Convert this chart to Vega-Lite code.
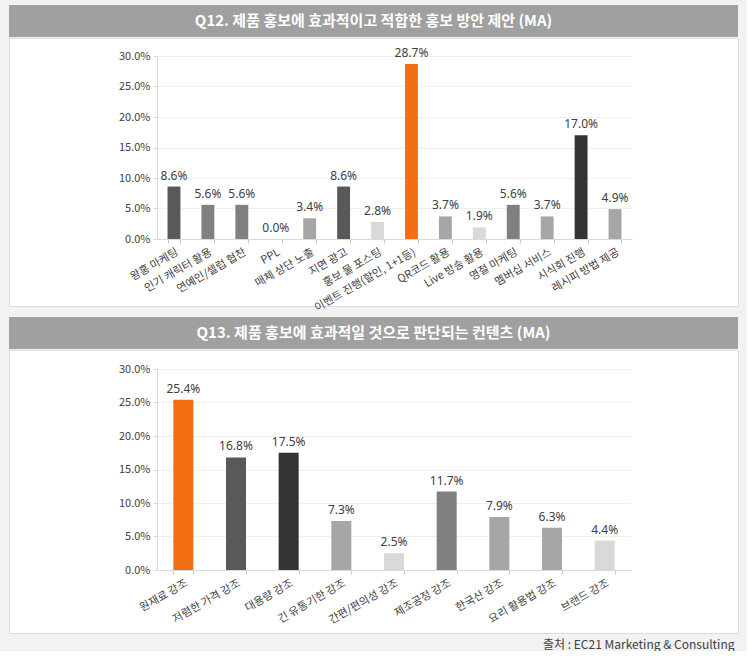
{
  "$schema": "https://vega.github.io/schema/vega-lite/v6.json",
  "background": "#f2f2f2",
  "padding": {"left": 8, "top": 5, "right": 8, "bottom": 0},
  "spacing": 3,
  "config": {
    "font": "Noto Sans CJK KR",
    "axis": {"labelFont": "Noto Sans CJK KR", "labelColor": "#404040", "title": null}
  },
  "title": {
    "text": "출처 : EC21 Marketing & Consulting",
    "orient": "bottom",
    "anchor": "end",
    "fontSize": 12,
    "fontWeight": "normal",
    "color": "#404040",
    "font": "Noto Sans CJK KR",
    "offset": 6,
    "dx": -4
  },
  "resolve": {"scale": {"x": "independent", "y": "independent", "color": "independent"}},
  "vconcat": [
    {
      "spacing": 0,
      "resolve": {"scale": {"x": "independent", "y": "independent", "color": "independent"}},
      "vconcat": [
        {
          "width": 729,
          "height": 32,
          "view": {"fill": "#a0a0a0", "stroke": null},
          "data": {"values": [{"t": "Q12. 제품 홍보에 효과적이고 적합한 홍보 방안 제안 (MA)"}]},
          "mark": {"type": "text", "color": "white", "fontWeight": "bold", "fontSize": 15, "font": "Noto Sans CJK KR"},
          "encoding": {"text": {"field": "t"}}
        },
        {
          "width": 729,
          "height": 268,
          "view": {"fill": "white", "stroke": "#dcdcdc"},
          "data": {
            "values": [
              {"item": "왕홍 마케팅", "value": 0.086},
              {"item": "인기 캐릭터 활용", "value": 0.056},
              {"item": "연예인/셀럽 협찬", "value": 0.056},
              {"item": "PPL", "value": 0.0},
              {"item": "매체 상단 노출", "value": 0.034},
              {"item": "지면 광고", "value": 0.086},
              {"item": "홍보 물 포스팅", "value": 0.028},
              {"item": "이벤트 진행(할인, 1+1등)", "value": 0.287},
              {"item": "QR코드 활용", "value": 0.037},
              {"item": "Live 방송 활용", "value": 0.019},
              {"item": "명절 마케팅", "value": 0.056},
              {"item": "멤버십 서비스", "value": 0.037},
              {"item": "시식회 진행", "value": 0.17},
              {"item": "레시피 방법 제공", "value": 0.049}
            ]
          },
          "encoding": {
            "x": {
              "field": "item", "type": "nominal", "sort": null,
              "scale": {"range": [148, 623], "paddingInner": 0.62, "paddingOuter": 0.31},
              "axis": {
                "labelAngle": -30, "labelAlign": "right", "labelBaseline": "top",
                "labelFontSize": 11, "labelPadding": 3, "labelLimit": 200,
                "tickBand": "extent", "tickColor": "#c8c8c8", "tickSize": 4,
                "domainColor": "#d9d9d9", "offset": -67
              }
            },
            "y": {
              "field": "value", "type": "quantitative",
              "scale": {"domain": [0, 0.3], "range": [201, 18], "nice": false},
              "axis": {
                "format": ".1%", "values": [0, 0.05, 0.1, 0.15, 0.2, 0.25, 0.3],
                "offset": -148, "labelFontSize": 11, "labelPadding": 3,
                "gridColor": "#efefef", "domainColor": "#d9d9d9", "tickColor": "#d9d9d9", "tickSize": 4
              }
            }
          },
          "layer": [
            {
              "mark": {"type": "bar"},
              "encoding": {
                "color": {
                  "field": "item", "type": "nominal", "legend": null,
                  "scale": {
                    "domain": ["왕홍 마케팅", "인기 캐릭터 활용", "연예인/셀럽 협찬", "PPL", "매체 상단 노출", "지면 광고", "홍보 물 포스팅", "이벤트 진행(할인, 1+1등)", "QR코드 활용", "Live 방송 활용", "명절 마케팅", "멤버십 서비스", "시식회 진행", "레시피 방법 제공"],
                    "range": ["#595959", "#808080", "#808080", "#808080", "#a6a6a6", "#595959", "#d9d9d9", "#f27013", "#a6a6a6", "#d9d9d9", "#808080", "#a6a6a6", "#333333", "#a6a6a6"]
                  }
                }
              }
            },
            {
              "mark": {"type": "text", "baseline": "bottom", "dy": -4, "fontSize": 12, "color": "#404040", "font": "Noto Sans"},
              "encoding": {"text": {"field": "value", "type": "quantitative", "format": ".1%"}}
            }
          ]
        }
      ]
    },
    {
      "spacing": 0,
      "resolve": {"scale": {"x": "independent", "y": "independent", "color": "independent"}},
      "vconcat": [
        {
          "width": 729,
          "height": 32,
          "view": {"fill": "#a0a0a0", "stroke": null},
          "data": {"values": [{"t": "Q13. 제품 홍보에 효과적일 것으로 판단되는 컨텐츠 (MA)"}]},
          "mark": {"type": "text", "color": "white", "fontWeight": "bold", "fontSize": 15, "font": "Noto Sans CJK KR"},
          "encoding": {"text": {"field": "t"}}
        },
        {
          "width": 729,
          "height": 283,
          "view": {"fill": "white", "stroke": "#dcdcdc"},
          "data": {
            "values": [
              {"item": "원재료 강조", "value": 0.254},
              {"item": "저렴한 가격 강조", "value": 0.168},
              {"item": "대용량 강조", "value": 0.175},
              {"item": "긴 유통기한 강조", "value": 0.073},
              {"item": "간편/편의성 강조", "value": 0.025},
              {"item": "제조공정 강조", "value": 0.117},
              {"item": "한국산 강조", "value": 0.079},
              {"item": "요리 활용법 강조", "value": 0.063},
              {"item": "브랜드 강조", "value": 0.044}
            ]
          },
          "encoding": {
            "x": {
              "field": "item", "type": "nominal", "sort": null,
              "scale": {"range": [148, 622], "paddingInner": 0.62, "paddingOuter": 0.31},
              "axis": {
                "labelAngle": -30, "labelAlign": "right", "labelBaseline": "top",
                "labelFontSize": 11, "labelPadding": 3, "labelLimit": 200,
                "tickBand": "extent", "tickColor": "#c8c8c8", "tickSize": 4,
                "domainColor": "#d9d9d9", "offset": -63
              }
            },
            "y": {
              "field": "value", "type": "quantitative",
              "scale": {"domain": [0, 0.3], "range": [220, 19], "nice": false},
              "axis": {
                "format": ".1%", "values": [0, 0.05, 0.1, 0.15, 0.2, 0.25, 0.3],
                "offset": -148, "labelFontSize": 11, "labelPadding": 3,
                "gridColor": "#efefef", "domainColor": "#d9d9d9", "tickColor": "#d9d9d9", "tickSize": 4
              }
            }
          },
          "layer": [
            {
              "mark": {"type": "bar"},
              "encoding": {
                "color": {
                  "field": "item", "type": "nominal", "legend": null,
                  "scale": {
                    "domain": ["원재료 강조", "저렴한 가격 강조", "대용량 강조", "긴 유통기한 강조", "간편/편의성 강조", "제조공정 강조", "한국산 강조", "요리 활용법 강조", "브랜드 강조"],
                    "range": ["#f27013", "#595959", "#333333", "#a6a6a6", "#d9d9d9", "#808080", "#a6a6a6", "#a6a6a6", "#d9d9d9"]
                  }
                }
              }
            },
            {
              "mark": {"type": "text", "baseline": "bottom", "dy": -4, "fontSize": 12, "color": "#404040", "font": "Noto Sans"},
              "encoding": {"text": {"field": "value", "type": "quantitative", "format": ".1%"}}
            }
          ]
        }
      ]
    }
  ]
}
